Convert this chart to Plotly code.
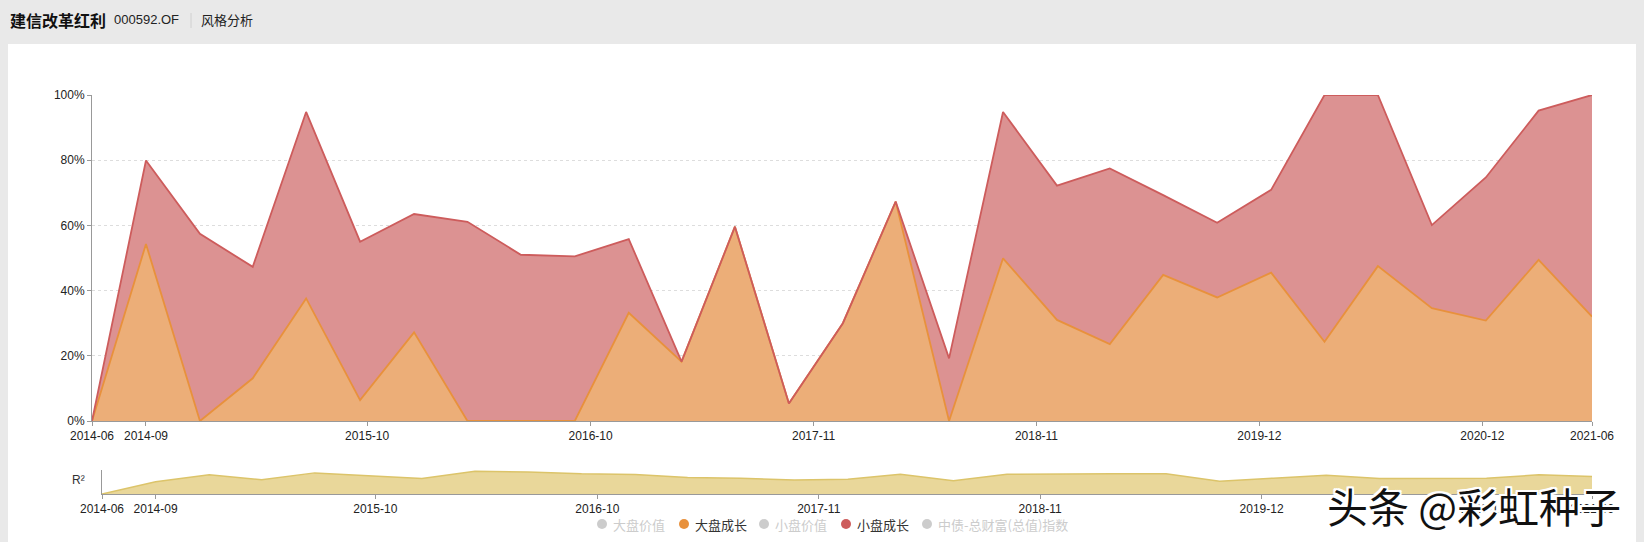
import plotly.graph_objects as go

# ---------------- data ----------------
dates = [
    "2014-06-30", "2014-09-30", "2014-12-31", "2015-03-31", "2015-06-30", "2015-09-30",
    "2015-12-31", "2016-03-31", "2016-06-30", "2016-09-30", "2016-12-31", "2017-03-31",
    "2017-06-30", "2017-09-30", "2017-12-31", "2018-03-31", "2018-06-30", "2018-09-30",
    "2018-12-31", "2019-03-31", "2019-06-30", "2019-09-30", "2019-12-31", "2020-03-31",
    "2020-06-30", "2020-09-30", "2020-12-31", "2021-03-31", "2021-06-30",
]
big_growth = [0, 54.3, 0, 13.1, 37.6, 6.4, 27.2, 0, 0, 0, 33.2, 18.2, 59.6, 5.4, 30.0,
              67.3, 0, 49.9, 31.0, 23.6, 44.8, 37.9, 45.5, 24.3, 47.5, 34.6, 30.8, 49.4, 32.0]
small_growth = [0, 25.6, 57.4, 34.2, 57.2, 48.6, 36.3, 61.1, 51.0, 50.5, 22.6, 0, 0, 0, 0,
                0, 19.2, 44.9, 41.2, 53.9, 24.5, 22.9, 25.4, 75.7, 52.5, 25.5, 43.9, 45.8, 68.0]
r2 = [0, 0.51, 0.80, 0.59, 0.88, 0.76, 0.65, 0.95, 0.92, 0.84, 0.81, 0.69, 0.66, 0.58, 0.61,
      0.82, 0.55, 0.82, 0.84, 0.84, 0.84, 0.53, 0.66, 0.78, 0.65, 0.65, 0.66, 0.80, 0.73]

tick_dates = ["2014-06-30", "2014-09-30", "2015-10-12", "2016-10-27", "2017-11-11",
              "2018-11-26", "2019-12-11", "2020-12-25", "2021-06-30"]
tick_labels = ["2014-06", "2014-09", "2015-10", "2016-10", "2017-11",
               "2018-11", "2019-12", "2020-12", "2021-06"]

legend_names = ["大盘价值", "大盘成长", "小盘价值", "小盘成长", "中债-总财富(总值)指数"]
legend_colors = ["#cccccc", "#e8913c", "#cccccc", "#cd5c5c", "#cccccc"]
legend_active = [False, True, False, True, False]

fund_name = "建信改革红利"
fund_code = "000592.OF"
section = "风格分析"
watermark = "头条 @彩虹种子"

# ---------------- layout helpers ----------------
W, H = 1644, 542
FONT = "Arial, 'Liberation Sans', 'Noto Sans CJK SC', sans-serif"
CJK = "'Noto Sans CJK SC', Arial, sans-serif"


def px(x):
    return x / W


def py(y):
    return 1 - y / H


fig = go.Figure()

fig.add_trace(go.Scatter(
    x=dates, y=big_growth, stackgroup="one", mode="lines", name=legend_names[1],
    line=dict(color="#e8913c", width=1.8), fillcolor="#ecae78",
    xaxis="x", yaxis="y", showlegend=False, hoverinfo="skip",
))
fig.add_trace(go.Scatter(
    x=dates, y=small_growth, stackgroup="one", mode="lines", name=legend_names[3],
    line=dict(color="#cd5c5c", width=1.8), fillcolor="#dc9292",
    xaxis="x", yaxis="y", showlegend=False, hoverinfo="skip",
))
fig.add_trace(go.Scatter(
    x=dates, y=r2, mode="lines", fill="tozeroy", name="R²",
    line=dict(color="#dcc46a", width=1.5), fillcolor="#e9d79a",
    xaxis="x2", yaxis="y2", showlegend=False, hoverinfo="skip",
))

common_x = dict(
    type="date", range=[dates[0], dates[-1]], tickmode="array",
    tickvals=tick_dates, ticktext=tick_labels, ticks="outside", ticklen=4,
    tickcolor="#999999", showline=True, linecolor="#999999", linewidth=1,
    showgrid=False, zeroline=False, tickfont=dict(size=12, color="#222222", family=FONT),
    fixedrange=True, automargin=False,
)

shapes = [
    # white card
    dict(type="rect", xref="paper", yref="paper", x0=px(8), x1=px(1636), y0=py(560), y1=py(44),
         fillcolor="#ffffff", line=dict(width=0), layer="below"),
    # header separator
    dict(type="line", xref="paper", yref="paper", x0=px(191), x1=px(191), y0=py(13), y1=py(28),
         line=dict(color="#d0d0d0", width=1)),
]

annotations = [
    dict(text="<b>" + fund_name + "</b>", x=px(8), y=py(20), xref="paper", yref="paper",
         xanchor="left", yanchor="middle", showarrow=False,
         font=dict(size=16, color="#111111", family=CJK)),
    dict(text=fund_code, x=px(112), y=py(20), xref="paper", yref="paper",
         xanchor="left", yanchor="middle", showarrow=False,
         font=dict(size=13, color="#222222", family=FONT)),
    dict(text=section, x=px(199), y=py(20), xref="paper", yref="paper",
         xanchor="left", yanchor="middle", showarrow=False,
         font=dict(size=13, color="#222222", family=CJK)),
    dict(text="R²", x=px(87), y=py(480), xref="paper", yref="paper",
         xanchor="right", yanchor="middle", showarrow=False,
         font=dict(size=12, color="#333333", family=FONT)),
]

# legend (echarts-like, built from legend arrays)
legend_x = [602, 684, 764, 846, 927]
for name, col, act, cx in zip(legend_names, legend_colors, legend_active, legend_x):
    shapes.append(dict(type="circle", xref="paper", yref="paper",
                       x0=px(cx - 5), x1=px(cx + 5), y0=py(529), y1=py(519),
                       fillcolor=col, line=dict(width=0)))
    annotations.append(dict(text=name, x=px(cx + 9), y=py(524), xref="paper", yref="paper",
                            xanchor="left", yanchor="middle", showarrow=False,
                            font=dict(size=13, color="#333333" if act else "#cccccc", family=CJK)))

annotations.append(dict(
    text=watermark, x=px(1474), y=py(505), xref="paper", yref="paper",
    xanchor="center", yanchor="middle", showarrow=False,
    font=dict(size=41, color="#111111", family=CJK,
              shadow="2px 2px 0 #fff, -2px -2px 0 #fff, 2px -2px 0 #fff, -2px 2px 0 #fff, 0 2px 0 #fff, 2px 0 0 #fff, 0 -2px 0 #fff, -2px 0 0 #fff"),
))

fig.update_layout(
    width=W, height=H, autosize=False,
    margin=dict(l=0, r=0, t=0, b=0, pad=0, autoexpand=False),
    paper_bgcolor="#e9e9e9", plot_bgcolor="rgba(0,0,0,0)",
    font=dict(family=FONT, color="#333333"),
    showlegend=False,
    xaxis=dict(domain=[px(92), px(1592)], anchor="y", **common_x),
    yaxis=dict(domain=[py(421), py(95)], anchor="x", range=[0, 100], dtick=20,
               ticksuffix="%", showgrid=True, gridcolor="#dddddd", griddash="3px,3px",
               showline=True, linecolor="#999999", ticks="outside", ticklen=4,
               tickcolor="#999999", zeroline=False, fixedrange=True, automargin=False,
               tickfont=dict(size=12, color="#222222", family=FONT)),
    xaxis2=dict(domain=[px(102), px(1592)], anchor="y2", **common_x),
    yaxis2=dict(domain=[py(494), py(470)], anchor="x2", range=[0, 1],
                showgrid=False, showline=True, linecolor="#999999", ticks="",
                showticklabels=False, zeroline=False, fixedrange=True, automargin=False),
    shapes=shapes,
    annotations=annotations,
)

fig.write_html("out.html", config={"displayModeBar": False},
               post_script="document.body.style.margin='0';")
